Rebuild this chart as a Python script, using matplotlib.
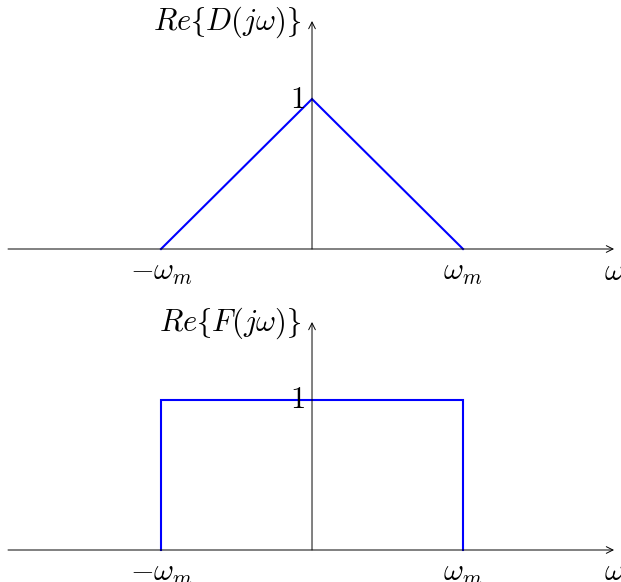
import matplotlib.pyplot as plt

plt.rcParams['mathtext.fontset'] = 'cm'

# Spectra, frequency in units of omega_m
tri_w = [-1, 0, 1]
tri_re = [0, 1, 0]
rect_w = [-1, -1, 1, 1]
rect_re = [0, 1, 1, 0]

ylabels = [r'$Re\lbrace D(j\omega)\rbrace$', r'$Re\lbrace F(j\omega)\rbrace$']
wticks = [-1, 1]
wtick_labels = [r'$-\omega_m$', r'$\omega_m$']

fig = plt.figure(figsize=(6.21, 5.82), dpi=100)
ax_top = fig.add_axes([0, 291 / 582, 1, 291 / 582])
ax_bot = fig.add_axes([0, 0, 1, 291 / 582])

fs = 22


def draw_panel(ax, w, re, ylabel, ylim):
    ax.set_xlim(-2.066, 2.046)
    ax.set_ylim(*ylim)
    ax.axis('off')
    # axes with arrow heads
    ax.annotate('', xy=(2.0, 0), xytext=(-2.013, 0),
                arrowprops=dict(arrowstyle='->', lw=0.7, color='black',
                                shrinkA=0, shrinkB=0, mutation_scale=12))
    ax.annotate('', xy=(0, 1.52), xytext=(0, 0),
                arrowprops=dict(arrowstyle='->', lw=0.7, color='black',
                                shrinkA=0, shrinkB=0, mutation_scale=12))
    ax.plot(w, re, color='blue', lw=1.5, solid_joinstyle='miter')
    ax.text(-0.07, 1.51, ylabel, ha='right', va='center', fontsize=fs)
    ax.text(-0.05, 1.0, '$1$', ha='right', va='center', fontsize=fs)
    for t, lab in zip(wticks, wtick_labels):
        ax.text(t, -0.06, lab, ha='center', va='top', fontsize=fs)
    ax.text(2.0, -0.05, r'$\omega$', ha='center', va='top', fontsize=fs)


draw_panel(ax_top, tri_w, tri_re, ylabels[0], (-(291 - 249) / 150, 249 / 150))
draw_panel(ax_bot, rect_w, rect_re, ylabels[1], (-(582 - 550) / 150, (550 - 291) / 150))

fig.savefig('out.png', dpi=100)
